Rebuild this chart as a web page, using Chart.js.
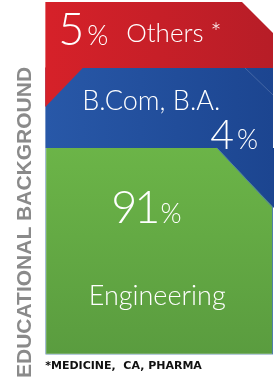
<!DOCTYPE html>
<html>
<head>
<meta charset="utf-8">
<script src="https://cdn.jsdelivr.net/npm/chart.js@4"></script>
<style>
  html, body { margin: 0; padding: 0; background: #fff; }
  canvas { display: block; }
</style>
</head>
<body>
<canvas id="graficoFormacao" width="279" height="381"></canvas>
<script>
// Dados do gráfico (de baixo para cima)
const categorias = ["Engineering", "B.Com, B.A.", "Others *"];
const percentuais = [91, 4, 5];
const tituloEixo = "EDUCATIONAL BACKGROUND";
const notaRodape = "*MEDICINE,  CA, PHARMA";

document.addEventListener("DOMContentLoaded", () => {
  const ctx = document.getElementById("graficoFormacao").getContext("2d");

  // altura visual de cada faixa (o infográfico não é proporcional)
  const alturasFaixas = [207, 80, 66];
  const fonteFina = `"Lato Light", "Roboto Light", "Open Sans Light", Lato, Roboto, sans-serif`;

  class EscalaFaixas extends Chart.LinearScale {
    getPixelForValue(value) {
      if (value === null || isNaN(value)) return NaN;
      const total = alturasFaixas.reduce((a, b) => a + b, 0);
      let acum = 0;
      let inicio = 0;
      for (let i = 0; i < percentuais.length; i++) {
        const fim = inicio + percentuais[i];
        if (value <= fim || i === percentuais.length - 1) {
          const frac = Math.min(Math.max((value - inicio) / percentuais[i], 0), 1);
          return this.getPixelForDecimal((acum + alturasFaixas[i] * frac) / total);
        }
        acum += alturasFaixas[i];
        inicio = fim;
      }
    }
  }
  EscalaFaixas.id = "faixas";
  EscalaFaixas.defaults = Chart.LinearScale.defaults;
  Chart.register(EscalaFaixas);

  const cores = [
    { de: "#6cb548", ate: "#5a9c3f", vertical: true },
    { de: "#2858a8", ate: "#1c4590", vertical: false },
    { de: "#d62129", ate: "#b71d27", vertical: false }
  ];
  const gradientes = {};

  function gradiente(chart, i) {
    const area = chart.chartArea;
    if (!area) return cores[i].de;
    const c = cores[i];
    const g = c.vertical
      ? chart.ctx.createLinearGradient(0, area.top + 140, 0, area.bottom)
      : chart.ctx.createLinearGradient(area.left, 0, area.right, 0);
    g.addColorStop(0, c.de);
    g.addColorStop(1, c.ate);
    gradientes[i] = g;
    return g;
  }

  // cantos cortados do infográfico
  const cantos = {
    id: "cantos",
    afterDatasetsDraw(chart) {
      const c = chart.ctx;
      const barras = [0, 1, 2].map(i => chart.getDatasetMeta(i).data[0]);
      const lim = barras.map(b => ({ l: b.x - b.width / 2, r: b.x + b.width / 2, t: b.y }));
      c.save();
      // vermelho: canto superior direito
      c.fillStyle = "#ffffff";
      c.beginPath();
      c.moveTo(lim[2].r - 32, lim[2].t - 1);
      c.lineTo(lim[2].r + 2, lim[2].t - 1);
      c.lineTo(lim[2].r + 2, lim[2].t + 33);
      c.closePath();
      c.fill();
      // azul: canto superior esquerdo mostra o vermelho
      c.fillStyle = gradientes[2] || cores[2].de;
      c.beginPath();
      c.moveTo(lim[1].l, lim[1].t - 0.5);
      c.lineTo(lim[1].l + 38, lim[1].t - 0.5);
      c.lineTo(lim[1].l, lim[1].t + 39);
      c.closePath();
      c.fill();
      // linha clara no azul
      c.strokeStyle = "rgba(255,255,255,0.25)";
      c.lineWidth = 0.7;
      c.beginPath();
      c.moveTo(lim[1].r - 28, lim[1].t);
      c.lineTo(lim[1].r, lim[1].t + 27);
      c.stroke();
      // verde: canto superior direito mostra o azul
      c.fillStyle = gradientes[1] || cores[1].de;
      c.beginPath();
      c.moveTo(lim[0].r - 56, lim[0].t);
      c.lineTo(lim[0].r + 1, lim[0].t);
      c.lineTo(lim[0].r + 1, lim[0].t + 60);
      c.closePath();
      c.fill();
      c.strokeStyle = "#4f7fa8";
      c.lineWidth = 1;
      c.beginPath();
      c.moveTo(lim[0].r - 56, lim[0].t);
      c.lineTo(lim[0].r, lim[0].t + 60);
      c.stroke();
      c.restore();
    }
  };

  function percentual(c, valor, x, y, tamNum, tamPct, espaco) {
    c.textAlign = "left";
    c.font = `300 ${tamNum}px ${fonteFina}`;
    c.letterSpacing = espaco + "px";
    const wNum = c.measureText(String(valor)).width;
    c.fillText(String(valor), x, y);
    c.letterSpacing = "0px";
    c.font = `300 ${tamPct}px ${fonteFina}`;
    c.fillText("%", x + wNum + 3, y);
  }

  const rotulos = {
    id: "rotulos",
    afterDraw(chart) {
      const c = chart.ctx;
      const barras = [0, 1, 2].map(i => chart.getDatasetMeta(i).data[0]);
      const l = barras[0].x - barras[0].width / 2;
      c.save();
      c.fillStyle = "#ffffff";
      c.textBaseline = "alphabetic";
      // vermelho
      percentual(c, percentuais[2], l + 13, barras[2].y + 43, 45, 27, 0);
      c.font = `300 26px ${fonteFina}`;
      c.textAlign = "left";
      c.fillText(categorias[2], l + 81, barras[2].y + 40);
      // azul
      c.font = `300 27px ${fonteFina}`;
      c.textAlign = "center";
      c.fillText(categorias[1], l + 106, barras[1].y + 42);
      percentual(c, percentuais[1], l + 165, barras[1].y + 81, 41, 27, 0);
      // verde
      percentual(c, percentuais[0], l + 66, barras[0].y + 75, 45, 27, -3);
      c.font = `300 27px ${fonteFina}`;
      c.textAlign = "center";
      c.fillText(categorias[0], l + 112, barras[0].y + 157);
      c.restore();
    }
  };

  const datasets = categorias.map((nome, i) => ({
    label: nome,
    data: [percentuais[i]],
    backgroundColor: (context) => gradiente(context.chart, i),
    borderColor: i === 0 ? "#4f7fa8" : "transparent",
    borderWidth: i === 0 ? 1 : 0,
    borderSkipped: i === 0 ? "top" : false,
    inflateAmount: 0,
    barPercentage: 1,
    categoryPercentage: 1
  }));

  new Chart(ctx, {
    type: "bar",
    data: { labels: [""], datasets },
    options: {
      responsive: false,
      animation: false,
      events: [],
      layout: { padding: { top: 2, right: 6, bottom: 3, left: 0 } },
      plugins: {
        legend: { display: false },
        tooltip: { enabled: false },
        title: {
          display: true,
          text: tituloEixo,
          position: "left",
          align: "start",
          color: "#8a8a8a",
          font: { family: "'Liberation Sans', Arial, sans-serif", size: 21, weight: "bold" },
          padding: { top: 13, bottom: 7 }
        },
        subtitle: {
          display: true,
          text: notaRodape,
          position: "bottom",
          align: "start",
          fullSize: false,
          color: "#111111",
          font: { family: "'DejaVu Sans', sans-serif", size: 11, weight: "bold" },
          padding: { top: 5, bottom: 5 }
        }
      },
      scales: {
        x: { stacked: true, display: false },
        y: { type: "faixas", stacked: true, min: 0, max: 100, display: false }
      }
    },
    plugins: [cantos, rotulos]
  });
});
</script>
</body>
</html>
